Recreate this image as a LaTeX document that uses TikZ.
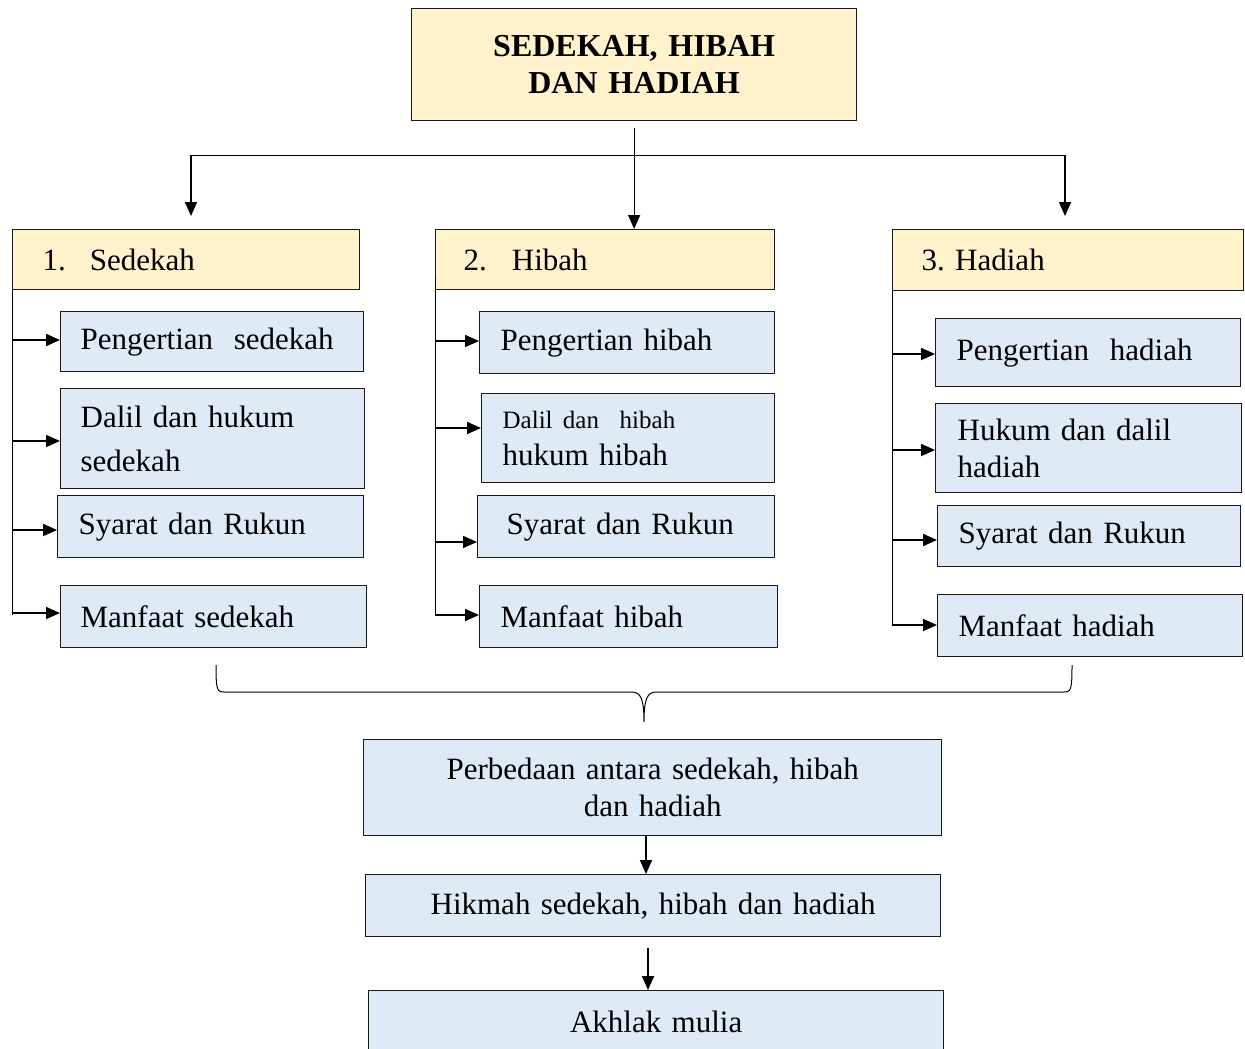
\documentclass[tikz,border=0pt]{standalone}
\usepackage{fontspec}
\setmainfont{Liberation Serif}
\usetikzlibrary{arrows.meta}
\definecolor{ylw}{HTML}{FFF2CC}
\definecolor{blu}{HTML}{DEEBF7}
\frenchspacing
\begin{document}
\begin{tikzpicture}[x=1pt,y=-1pt,
  box/.style={draw=black!90, line width=1.3pt, anchor=north west, inner ysep=0pt, align=left,
              font=\fontsize{31}{37}\selectfont},
  ybox/.style={box, fill=ylw},
  bbox/.style={box, fill=blu},
  cbox/.style={bbox, align=center, inner xsep=0pt},
  arr/.style={line width=1.8pt, -{Triangle[length=14pt,width=12pt]}},
  tarr/.style={line width=1.3pt, -{Triangle[length=14pt,width=12pt]}},
  ln/.style={line width=1pt}]
\useasboundingbox (0,0) rectangle (1245,1049);

% title
\node[box, fill=ylw, align=center, inner xsep=0pt, text width=445pt, minimum height=112pt,
      font=\fontsize{32}{37}\selectfont\bfseries] (title) at (411,8) {SEDEKAH, HIBAH\\DAN HADIAH};

% categories
\node[ybox, inner xsep=30pt, text width=287pt, minimum height=60pt] (catS) at (12,229) {1.\hspace{24pt}Sedekah};
\node[ybox, inner xsep=28pt, text width=283pt, minimum height=60pt] (catH) at (435,229) {2.\hspace{25pt}Hibah};
\node[ybox, inner xsep=29pt, text width=293pt, minimum height=61pt] (catD) at (892,229) {3. Hadiah};

% sedekah items
\node[bbox, inner xsep=20pt, text width=263pt, minimum height=60pt] (S1) at (60,311) {Pengertian\ \ sedekah};
\node[bbox, inner xsep=20pt, text width=264pt, minimum height=100pt, font=\fontsize{31}{44}\selectfont] (S2) at (60,388) {Dalil dan hukum\\sedekah};
\node[bbox, inner xsep=21pt, text width=264pt, minimum height=62pt] (S3) at (57,495) {Syarat dan Rukun};
\node[bbox, inner xsep=20pt, text width=266pt, minimum height=62pt] (S4) at (60,585) {Manfaat sedekah};

% hibah items
\node[bbox, inner xsep=21pt, text width=253pt, minimum height=62pt] (H1) at (479,311) {Pengertian hibah};
\node[bbox, inner xsep=21pt, text width=251pt, minimum height=89pt] (H2) at (481,393) {{\fontsize{25}{37}\selectfont Dalil dan\ \ hibah}\\hukum hibah};
\node[bbox, inner xsep=29pt, text width=239pt, minimum height=62pt] (H3) at (477,495) {Syarat dan Rukun};
\node[bbox, inner xsep=21pt, text width=256pt, minimum height=62pt] (H4) at (479,585) {Manfaat hibah};

% hadiah items
\node[bbox, inner xsep=21pt, text width=263pt, minimum height=68pt] (D1) at (935,318) {Pengertian\ \ hadiah};
\node[bbox, inner xsep=22pt, text width=262pt, minimum height=89pt] (D2) at (935,403) {Hukum dan dalil\\hadiah};
\node[bbox, inner xsep=21pt, text width=261pt, minimum height=61pt] (D3) at (937,505) {Syarat dan Rukun};
\node[bbox, inner xsep=21pt, text width=263pt, minimum height=62pt] (D4) at (937,594) {Manfaat hadiah};

% bottom chain
\node[cbox, text width=578pt, minimum height=96pt] (P) at (363,739) {Perbedaan antara sedekah, hibah\\dan hadiah};
\node[cbox, text width=575pt, minimum height=62pt] (K) at (365,874) {Hikmah sedekah, hibah dan hadiah};
\node[cbox, text width=575pt, minimum height=62pt] (A) at (368,990) {Akhlak mulia};

% top connectors
\coordinate (hl) at (191,155);
\coordinate (hr) at (1065,155);
\draw[ln] (hl) -- (hr);
\draw[tarr] ([yshift=-7pt]title.south) -- (title.south |- catH.north);
\draw[tarr] (hl) -- ++(0,61);
\draw[tarr] (hr) -- ++(0,61);

% spines
\draw[ln] (catS.south west) -- (12,615);
\draw[ln] (435,278) -- (435,615);
\draw[ln] (catD.south west) -- (892,625);

% left arrows
\draw[arr] (12,340) -- (S1.west |- 0,340);
\draw[arr] (12,441) -- (S2.west |- 0,441);
\draw[arr] (12,530) -- (S3.west |- 0,530);
\draw[arr] (12,613) -- (S4.west |- 0,613);
% middle arrows
\draw[arr] (435,341) -- (H1.west |- 0,341);
\draw[arr] (435,428) -- (H2.west |- 0,428);
\draw[arr] (435,542) -- (H3.west |- 0,542);
\draw[arr] (435,615) -- (H4.west |- 0,615);
% right arrows
\draw[arr] (892,354) -- (D1.west |- 0,354);
\draw[arr] (892,450) -- (D2.west |- 0,450);
\draw[arr] (892,540) -- (D3.west |- 0,540);
\draw[arr] (892,625) -- (D4.west |- 0,625);

% brace
\draw[line width=1pt] (216,665) .. controls (216,690) and (217,692) .. (224,692) -- (632,692)
  .. controls (641,692) and (644,700) .. (644,722)
  .. controls (644,700) and (647,692) .. (656,692) -- (1064,692)
  .. controls (1071,692) and (1072,690) .. (1072,665);

% bottom arrows
\draw[arr] (P.south -| 646,0) -- (K.north -| 646,0);
\draw[arr] ([yshift=-11pt]K.south -| 648,0) -- (A.north -| 648,0);
\end{tikzpicture}
\end{document}
